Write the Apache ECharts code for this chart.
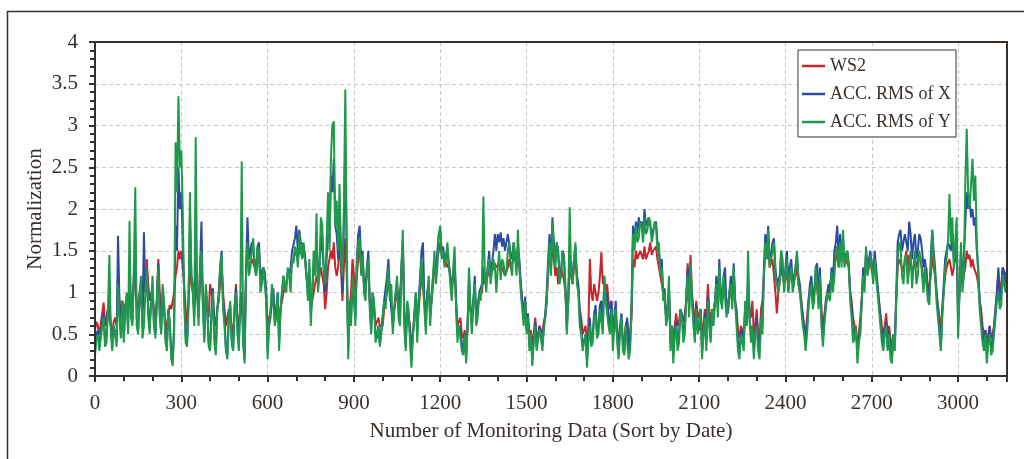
<!DOCTYPE html>
<html>
<head>
<meta charset="utf-8">
<script src="https://cdn.jsdelivr.net/npm/echarts@6/dist/echarts.min.js"></script>
<style>
html,body{margin:0;padding:0;background:#fff;}
#chart{width:1024px;height:459px;}
</style>
</head>
<body>
<div id="chart"></div>
<script>
// One reading every 5 monitoring records
const sampleStep = 5;
const seriesNames = ['WS2', 'ACC. RMS of X', 'ACC. RMS of Y'];
const xTickLabels = ['0','300','600','900','1200','1500','1800','2100','2400','2700','3000'];
const yTickLabels = ['0','0.5','1','1.5','2','2.5','3','3.5','4'];

const ws2 = [
0.55,0.65,0.6,0.5,0.5,0.75,0.88,0.6,0.6,0.8,0.7,0.6,0.5,0.65,0.7,0.6,1.2,0.9,0.75,0.9,
0.7,0.85,0.9,0.8,1.1,0.9,0.8,1.1,1.2,0.85,0.8,1.0,1.0,0.8,1.2,1.0,1.4,1.1,0.9,1.0,
1.0,0.8,0.7,0.9,1.4,1.0,0.8,0.9,0.9,0.65,0.55,0.75,0.85,0.8,0.9,1.0,1.2,1.3,1.5,1.4,
1.5,1.3,1.1,0.8,0.6,0.9,1.3,1.1,1.0,0.8,1.2,1.0,0.8,1.1,1.3,1.0,0.6,0.9,0.9,0.7,
1.1,1.0,0.9,0.7,0.6,0.8,0.9,1.1,1.3,1.0,0.8,0.6,0.6,0.8,0.8,0.6,0.5,0.8,1.1,0.7,
0.6,0.8,0.9,0.6,0.5,1.2,1.5,1.3,1.3,1.4,1.4,1.3,1.2,1.4,1.45,1.2,1.15,1.25,1.2,1.0,
0.6,0.7,0.75,0.9,0.9,0.8,0.7,0.85,0.6,0.8,0.9,1.0,1.05,1.1,1.2,1.2,1.25,1.35,1.4,1.5,
1.45,1.4,1.5,1.5,1.55,1.45,1.4,1.2,1.1,1.2,0.8,0.9,1.0,1.1,1.2,1.1,1.1,1.3,1.2,1.1,
0.8,1.0,1.3,1.4,1.5,1.4,1.6,1.3,1.2,1.3,1.65,1.3,0.9,1.3,1.65,1.2,0.5,0.8,1.0,1.4,
1.4,1.0,1.2,1.4,1.55,1.3,1.35,1.1,1.1,1.2,1.3,0.9,0.7,0.9,0.8,0.6,0.65,0.7,0.6,0.6,
0.6,0.8,0.8,1.0,1.2,1.0,1.0,0.7,0.7,0.9,1.05,0.8,0.8,1.2,1.6,0.8,0.5,0.8,0.8,0.6,
0.35,0.5,0.7,0.9,0.6,0.8,1.0,1.2,1.2,0.9,0.8,0.95,1.05,0.8,0.9,1.1,1.3,1.2,1.4,1.5,
1.6,1.45,1.5,1.4,1.4,1.3,1.35,1.2,1.1,1.2,1.3,0.9,0.6,0.65,0.7,0.5,0.45,0.55,0.35,0.6,
1.1,0.8,0.7,0.9,1.0,0.75,0.8,0.95,0.95,1.0,1.2,1.1,1.1,1.2,1.3,1.2,1.2,1.3,1.35,1.3,
1.3,1.35,1.25,1.3,1.3,1.2,1.2,1.3,1.4,1.3,1.3,1.4,1.45,1.3,1.5,1.3,1.1,0.9,0.8,0.9,
0.6,0.7,0.5,0.55,0.35,0.5,0.7,0.5,0.45,0.6,0.55,0.5,0.65,0.7,0.9,1.2,1.5,1.3,1.6,1.4,
1.2,1.3,1.1,1.1,1.3,1.3,1.15,1.0,0.7,0.9,1.4,1.2,1.1,1.3,1.4,1.2,1.05,0.8,0.7,0.5,
0.5,0.6,0.4,0.6,1.4,1.0,0.9,1.1,1.1,0.9,1.0,1.2,1.48,1.1,1.2,1.0,1.1,0.9,0.8,0.9,
0.6,0.7,0.7,0.5,0.45,0.6,0.6,0.45,0.4,0.6,0.65,0.45,0.5,0.7,1.4,1.3,1.5,1.4,1.45,1.5,
1.45,1.4,1.55,1.4,1.4,1.5,1.6,1.45,1.5,1.5,1.55,1.4,1.4,1.2,1.1,1.0,0.9,0.7,0.75,1.0,
0.55,0.6,0.45,0.6,0.75,0.6,0.65,0.8,0.8,0.65,0.75,0.9,1.35,1.0,1.45,1.0,0.8,0.6,0.9,0.7,
0.7,0.8,0.5,0.6,0.8,0.6,1.1,0.8,0.6,0.8,0.75,0.9,1.0,0.9,1.2,1.0,0.9,1.1,1.1,0.9,
0.8,0.95,1.0,0.9,1.2,0.9,0.8,0.55,0.45,0.6,0.6,0.5,0.8,0.7,1.1,0.8,0.7,0.9,0.5,0.6,
0.8,0.5,0.4,0.8,0.9,1.2,1.5,1.4,1.6,1.3,1.3,1.4,1.4,1.0,0.75,1.0,1.0,1.3,1.3,1.1,
1.15,1.3,1.0,1.2,1.25,1.1,1.1,1.2,1.35,1.1,1.0,0.9,0.75,0.6,0.5,0.7,0.9,1.0,1.1,0.9,
1.0,1.2,1.2,0.9,1.15,0.8,0.6,0.7,0.85,0.95,1.0,1.0,1.2,1.1,1.3,1.4,1.55,1.3,1.5,1.4,
1.5,1.35,1.4,1.4,1.3,1.0,0.9,0.7,0.6,0.6,0.4,0.5,0.7,0.9,1.2,1.1,1.45,1.3,1.35,1.4,
1.25,1.2,1.35,1.2,1.2,0.9,0.75,0.6,0.5,0.6,0.75,0.5,0.6,0.45,0.35,0.5,0.45,0.9,1.3,1.4,
1.4,1.3,1.25,1.4,1.5,1.3,1.45,1.4,1.2,1.3,1.4,1.3,1.3,1.45,1.45,1.3,1.15,1.2,1.3,1.0,
1.0,1.2,1.45,1.3,1.2,1.0,0.85,0.7,0.5,0.8,1.0,1.2,1.3,1.3,1.4,1.3,1.2,1.3,1.3,1.5,
0.8,1.0,1.4,1.1,1.1,1.3,1.5,1.4,1.45,1.3,1.4,1.3,1.3,1.2,1.1,0.9,0.8,0.6,0.5,0.55,
0.4,0.5,0.6,0.45,0.5,0.6,0.8,1.0,1.25,1.0,1.1,1.3,1.3,1.2,1.25
];

const accX = [
0.3,0.5,0.55,0.35,0.35,0.65,0.75,0.4,0.5,0.8,0.9,0.6,0.35,0.6,0.6,0.4,1.68,0.9,0.5,0.9,
0.45,0.8,0.95,0.55,1.3,0.8,0.65,1.2,1.4,0.7,0.55,0.9,1.1,0.6,1.72,1.0,1.3,0.8,0.6,0.9,
1.1,0.6,0.5,0.9,1.35,0.8,0.55,1.0,0.85,0.45,0.4,0.8,0.65,0.3,0.2,0.6,1.8,1.5,2.5,2.0,
2.2,1.6,1.0,0.5,0.4,0.9,1.9,1.2,1.1,0.7,1.6,1.0,0.7,1.3,1.85,0.9,0.45,1.0,0.8,0.4,
0.35,0.8,1.05,0.5,0.3,0.8,1.0,1.3,1.5,0.9,0.7,0.35,0.25,0.7,0.85,0.45,0.3,0.8,1.05,0.6,
0.4,0.9,1.0,0.4,0.2,1.3,1.9,1.4,1.4,1.6,1.5,1.35,1.3,1.55,1.6,1.2,1.2,1.3,1.25,1.0,
0.3,0.6,0.7,1.0,1.05,0.7,0.8,1.0,0.4,0.8,1.0,1.2,1.05,1.1,1.25,1.2,1.3,1.5,1.5,1.65,
1.8,1.5,1.75,1.6,1.6,1.55,1.45,1.2,1.0,1.3,0.75,1.0,1.3,1.4,1.6,1.2,1.3,1.7,1.5,1.3,
1.0,1.4,1.7,1.6,2.4,2.2,2.6,1.8,1.7,1.4,2.0,1.5,1.0,1.8,2.8,1.5,0.3,0.8,0.7,1.1,
0.9,0.7,1.4,1.7,1.8,1.4,1.5,1.1,1.0,1.3,1.5,0.9,0.55,1.0,0.85,0.5,0.45,0.6,0.4,0.55,
0.55,0.9,0.9,1.2,1.4,1.0,1.0,0.6,0.6,1.0,1.1,0.8,0.65,1.3,1.6,0.7,0.35,0.8,0.75,0.5,
0.2,0.5,0.75,1.0,0.5,0.9,1.2,1.5,1.6,0.9,0.6,1.0,1.1,0.7,0.7,1.2,1.4,1.2,1.5,1.7,
1.75,1.5,1.55,1.4,1.45,1.5,1.3,1.2,1.0,1.2,1.4,0.9,0.5,0.6,0.55,0.4,0.3,0.5,0.2,0.6,
1.2,0.8,0.6,0.9,1.2,0.7,0.75,1.0,1.0,1.1,1.3,1.2,1.1,1.3,1.5,1.2,1.2,1.5,1.7,1.5,
1.7,1.6,1.72,1.55,1.65,1.5,1.5,1.7,1.7,1.45,1.4,1.6,1.6,1.3,1.55,1.4,1.1,0.9,0.7,0.95,
0.55,0.75,0.35,0.5,0.2,0.45,0.65,0.35,0.35,0.6,0.45,0.35,0.6,0.75,1.0,1.4,1.7,1.3,1.9,1.6,
1.35,1.6,1.5,1.2,1.25,1.5,1.45,1.1,0.55,0.9,1.5,1.3,1.2,1.4,1.55,1.2,1.1,0.7,0.55,0.35,
0.35,0.5,0.2,0.45,0.7,0.4,0.5,0.75,0.85,0.5,0.6,0.85,0.9,0.6,1.1,0.9,1.0,0.7,0.6,0.9,
0.5,0.7,0.9,0.5,0.35,0.6,0.75,0.4,0.3,0.6,0.7,0.3,0.4,0.9,1.8,1.6,1.85,1.7,1.9,1.8,
1.85,1.7,2.0,1.8,1.8,1.9,1.9,1.7,1.75,1.8,1.85,1.6,1.5,1.3,1.4,1.0,1.05,0.7,0.8,1.1,
0.4,0.6,0.25,0.5,0.65,0.4,0.5,0.8,0.75,0.5,0.6,0.9,1.3,0.8,1.25,0.9,0.7,0.5,0.85,0.6,
0.55,0.8,0.3,0.5,0.75,0.4,0.95,0.7,0.45,0.8,0.7,0.9,1.2,0.8,1.4,1.0,0.9,1.2,1.3,0.8,
0.75,1.0,1.2,0.9,1.35,0.9,0.7,0.4,0.3,0.5,0.55,0.4,0.85,0.6,1.2,0.7,0.5,0.6,0.3,0.5,
0.7,0.4,0.3,0.7,0.6,1.3,1.7,1.5,1.8,1.4,1.45,1.6,1.65,1.3,1.1,1.1,1.2,1.5,1.5,1.1,
1.3,1.5,1.1,1.3,1.4,1.1,1.2,1.3,1.45,1.2,1.1,0.9,0.7,0.6,0.4,0.6,0.9,1.1,1.2,0.9,
1.0,1.3,1.35,0.9,1.3,0.7,0.45,0.7,0.9,1.0,1.1,1.0,1.3,1.1,1.5,1.6,1.8,1.4,1.7,1.4,
1.65,1.4,1.45,1.5,1.35,1.0,0.8,0.5,0.5,0.6,0.25,0.45,0.55,0.9,1.3,1.1,1.5,1.3,1.4,1.5,
1.35,1.2,1.5,1.3,1.3,0.9,0.7,0.5,0.35,0.55,0.65,0.35,0.55,0.3,0.2,0.5,0.35,1.0,1.6,1.7,
1.75,1.5,1.5,1.7,1.6,1.5,1.85,1.7,1.4,1.6,1.7,1.4,1.5,1.7,1.65,1.5,1.3,1.4,1.4,1.0,
0.95,1.4,1.75,1.5,1.3,1.0,0.8,0.6,0.35,0.8,1.1,1.4,1.5,1.6,1.6,1.5,1.7,1.4,1.5,1.7,
0.6,1.0,1.5,1.1,1.1,1.8,2.2,2.0,2.1,1.9,2.0,1.8,1.9,1.5,1.3,0.9,0.7,0.5,0.4,0.55,
0.25,0.45,0.6,0.3,0.4,0.6,0.8,1.0,1.3,0.9,1.0,1.3,1.25,1.1,1.2
];

const accY = [
0.25,0.45,0.5,0.3,0.3,0.6,0.7,0.35,0.4,0.8,1.45,0.5,0.3,0.6,0.5,0.35,1.1,0.7,0.45,0.9,
0.4,0.8,1.0,0.5,1.86,0.7,0.6,1.3,2.26,0.6,0.5,1.0,1.2,0.45,0.6,1.0,1.3,0.7,0.5,0.9,
1.2,0.6,0.45,0.9,1.3,0.7,0.5,1.1,0.9,0.4,0.3,0.8,0.6,0.2,0.12,0.5,2.8,2.2,3.35,2.5,
2.7,2.0,0.9,0.4,0.35,0.8,2.2,1.2,1.0,0.6,2.86,1.0,0.6,1.3,1.5,0.8,0.4,1.1,0.9,0.35,
0.3,0.7,1.0,0.4,0.25,0.8,0.9,1.3,1.45,0.8,0.6,0.3,0.2,0.7,0.9,0.4,0.3,0.8,1.0,0.5,
0.3,0.9,2.57,0.4,0.15,1.2,1.6,1.2,1.3,1.5,1.65,1.3,1.2,1.55,1.5,1.0,1.1,1.3,1.3,0.9,
0.2,0.6,0.8,1.1,1.1,0.6,0.7,1.0,0.3,0.8,1.0,1.2,1.1,1.0,1.3,1.2,1.0,1.4,1.35,1.55,
1.5,1.3,1.7,1.5,1.4,1.6,1.6,1.2,0.9,1.4,0.6,1.0,1.5,1.2,1.95,1.0,1.2,1.9,1.8,1.3,
1.1,1.6,2.2,1.5,2.6,3.0,3.05,1.8,2.1,1.5,2.3,1.4,1.2,2.0,3.43,1.5,0.2,0.9,0.6,1.2,
1.0,0.6,1.3,1.6,1.65,1.2,1.45,1.0,0.9,1.3,1.4,0.8,0.5,1.0,0.9,0.4,0.4,0.6,0.35,0.5,
0.5,0.9,0.8,1.1,1.3,0.9,1.1,0.5,0.5,1.0,1.2,0.7,0.6,1.3,1.75,0.6,0.3,0.9,0.8,0.4,
0.1,0.5,0.7,1.0,0.4,0.9,1.1,1.4,1.4,0.8,0.5,1.0,1.2,0.6,0.6,1.2,1.5,1.1,1.3,1.7,
1.8,1.4,1.5,1.3,1.4,1.6,1.6,1.1,0.9,1.3,1.55,0.8,0.4,0.6,0.6,0.3,0.25,0.5,0.15,0.6,
1.3,0.8,0.5,0.9,1.1,0.6,0.7,1.0,0.9,1.1,2.15,1.2,1.0,1.3,1.4,1.1,1.1,1.4,1.3,1.0,
1.3,1.5,1.15,1.4,1.35,1.2,1.25,1.5,1.6,1.3,1.2,1.6,1.45,1.2,1.75,1.3,1.0,0.8,0.6,0.9,
0.5,0.7,0.3,0.5,0.12,0.4,0.6,0.3,0.3,0.55,0.5,0.3,0.55,0.7,0.9,1.3,1.6,1.2,1.85,1.5,
1.3,1.6,1.45,1.1,1.2,1.5,1.4,1.0,0.5,0.9,2.02,1.2,1.1,1.4,1.6,1.1,1.0,0.6,0.5,0.3,
0.3,0.5,0.1,0.4,0.6,0.35,0.4,0.7,0.75,0.45,0.5,0.8,0.8,0.5,1.2,0.9,0.9,0.6,0.5,0.8,
0.3,0.6,0.8,0.4,0.2,0.5,0.7,0.3,0.25,0.6,0.6,0.2,0.3,0.8,1.7,1.5,1.8,1.6,1.65,1.85,
1.8,1.6,1.9,1.7,1.75,1.9,1.85,1.6,1.7,1.85,1.8,1.5,1.6,1.2,1.3,0.9,1.0,0.6,0.7,1.2,
0.3,0.6,0.15,0.5,0.6,0.3,0.4,0.8,0.7,0.4,0.5,0.9,1.2,0.7,1.35,0.9,0.6,0.4,0.8,0.5,
0.5,0.8,0.2,0.5,0.7,0.3,0.9,0.6,0.4,0.8,0.6,0.9,1.1,0.7,1.3,0.9,0.8,1.2,1.2,0.7,
0.7,1.0,1.1,0.8,1.3,0.9,0.6,0.3,0.2,0.5,0.5,0.3,0.9,0.6,1.5,0.7,0.4,0.6,0.2,0.5,
0.6,0.3,0.2,0.7,0.5,1.2,1.6,1.4,1.75,1.3,1.3,1.5,1.6,1.2,1.2,1.0,1.1,1.5,1.4,1.0,
1.2,1.4,1.0,1.2,1.3,1.0,1.1,1.3,1.5,1.1,1.0,0.8,0.6,0.5,0.3,0.5,0.8,1.0,1.1,0.8,
0.9,1.3,1.1,0.8,1.2,0.6,0.35,0.6,0.8,1.0,1.0,0.9,1.25,1.0,1.2,1.5,1.55,1.3,1.6,1.3,
1.75,1.3,1.4,1.5,1.3,0.9,0.7,0.4,0.45,0.6,0.15,0.4,0.5,0.9,1.2,1.0,1.55,1.2,1.3,1.45,
1.3,1.1,1.4,1.2,1.2,0.8,0.6,0.4,0.3,0.5,0.6,0.3,0.5,0.2,0.15,0.5,0.3,0.9,1.4,1.6,
1.55,1.2,1.1,1.4,1.45,1.1,1.3,1.5,1.05,1.3,1.5,1.1,1.2,1.5,1.4,1.2,1.0,1.3,1.3,0.9,
0.85,1.3,1.75,1.4,1.2,0.9,0.7,0.5,0.3,0.7,1.0,1.3,1.4,1.6,2.18,1.6,1.9,1.3,1.6,1.9,
0.45,1.0,1.6,1.0,1.2,2.3,2.96,2.2,2.0,2.3,2.6,2.1,2.4,1.6,1.2,0.8,0.6,0.4,0.3,0.5,
0.15,0.4,0.5,0.25,0.3,0.5,0.7,0.9,1.0,0.8,0.85,1.2,1.1,1.0,1.15
];

const colors = ['#c8252d', '#2b4ca3', '#1f9a4a'];
const FONT = '"Liberation Serif","DejaVu Serif",serif';
const TXT = '#3a302b';

function pairs(arr) { return arr.map((v, i) => [i * sampleStep, v]); }

const chart = echarts.init(document.getElementById('chart'), null, {renderer: 'canvas'});
chart.setOption({
  animation: false,
  backgroundColor: '#fff',
  color: colors,
  graphic: [{
    type: 'rect', left: 5, top: 9, silent: true,
    shape: {x: 0, y: 0, width: 1040, height: 470},
    style: {fill: 'none', stroke: '#333', lineWidth: 1.5}
  }, {
    type: 'rect', silent: true, z: 100,
    shape: {x: 95, y: 42, width: 912, height: 334},
    style: {fill: 'none', stroke: TXT, lineWidth: 2}
  }],
  grid: {left: 95, right: 17, top: 42, bottom: 83, show: false},
  legend: {
    orient: 'vertical', left: 798, top: 50, z: 200,
    data: seriesNames,
    icon: 'rect', itemWidth: 23, itemHeight: 2.5, itemGap: 10,
    padding: [7, 5, 6, 4],
    backgroundColor: '#fff', borderColor: TXT, borderWidth: 1, borderRadius: 0,
    textStyle: {fontFamily: FONT, fontSize: 18, color: TXT}
  },
  xAxis: {
    type: 'value', min: 0, max: 3170, interval: 300,
    name: 'Number of Monitoring Data (Sort by Date)', nameLocation: 'middle', nameGap: 45,
    nameTextStyle: {fontFamily: FONT, fontSize: 21, color: TXT},
    axisLine: {show: true, onZero: false, lineStyle: {color: TXT, width: 2}},
    axisTick: {show: true, inside: false, length: 6, lineStyle: {color: TXT, width: 2}},
    minorTick: {show: true, splitNumber: 3, length: 5, lineStyle: {color: TXT, width: 2}},
    axisLabel: {fontFamily: FONT, fontSize: 21, color: TXT, margin: 17, showMaxLabel: false,
      formatter: v => { const s = String(v); return xTickLabels.indexOf(s) >= 0 ? s : ''; }},
    splitLine: {show: true, lineStyle: {color: '#c8c8c8', type: [4, 3], width: 1}}
  },
  yAxis: {
    type: 'value', min: 0, max: 4, interval: 0.5,
    name: 'Normalization', nameLocation: 'middle', nameGap: 49, nameRotate: 90,
    nameMoveOverlap: false,
    nameTextStyle: {fontFamily: FONT, fontSize: 21, color: TXT},
    axisLine: {show: true, onZero: false, lineStyle: {color: TXT, width: 2}},
    axisTick: {show: true, inside: false, length: 6, lineStyle: {color: TXT, width: 2}},
    minorTick: {show: true, splitNumber: 5, length: 5, lineStyle: {color: TXT, width: 2}},
    axisLabel: {fontFamily: FONT, fontSize: 21, color: TXT, margin: 17,
      formatter: v => { const s = String(v); return yTickLabels.indexOf(s) >= 0 ? s : ''; }},
    splitLine: {show: true, lineStyle: {color: '#c8c8c8', type: [4, 3], width: 1}}
  },
  series: [
    {name: seriesNames[0], type: 'line', data: pairs(ws2), showSymbol: false, symbol: 'none', lineStyle: {width: 2, color: colors[0]}, z: 2},
    {name: seriesNames[1], type: 'line', data: pairs(accX), showSymbol: false, symbol: 'none', lineStyle: {width: 2, color: colors[1]}, z: 3},
    {name: seriesNames[2], type: 'line', data: pairs(accY), showSymbol: false, symbol: 'none', lineStyle: {width: 2, color: colors[2]}, z: 4}
  ]
});
</script>
</body>
</html>
